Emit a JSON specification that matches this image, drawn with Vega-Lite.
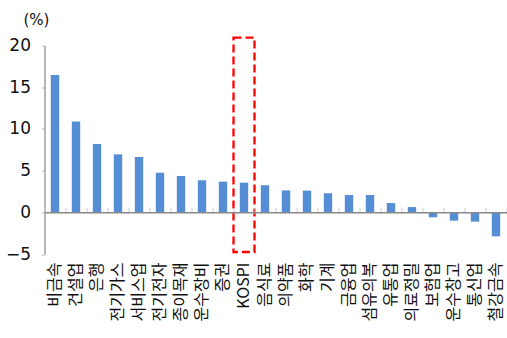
{
  "$schema": "https://vega.github.io/schema/vega-lite/v6.json",
  "width": 462,
  "height": 208.5,
  "autosize": {"type": "none"},
  "padding": {"left": 44.5, "top": 45.5, "right": 0.5, "bottom": 84},
  "background": "white",
  "config": {"view": {"stroke": null}, "font": "DejaVu Sans"},
  "data": {
    "values": [
      {"sector": "비금속", "value": 16.45},
      {"sector": "건설업", "value": 10.9},
      {"sector": "은행", "value": 8.2},
      {"sector": "전기가스", "value": 6.95},
      {"sector": "서비스업", "value": 6.63},
      {"sector": "전기전자", "value": 4.75},
      {"sector": "종이목재", "value": 4.35},
      {"sector": "운수장비", "value": 3.84},
      {"sector": "증권", "value": 3.67},
      {"sector": "KOSPI", "value": 3.55},
      {"sector": "음식료", "value": 3.24},
      {"sector": "의약품", "value": 2.63},
      {"sector": "화학", "value": 2.6},
      {"sector": "기계", "value": 2.28},
      {"sector": "금융업", "value": 2.07},
      {"sector": "섬유의복", "value": 2.07},
      {"sector": "유통업", "value": 1.11},
      {"sector": "의료정밀", "value": 0.63},
      {"sector": "보험업", "value": -0.6},
      {"sector": "운수창고", "value": -1.0},
      {"sector": "통신업", "value": -1.12},
      {"sector": "철강금속", "value": -2.88}
    ]
  },
  "layer": [
    {
      "mark": {"type": "bar", "width": {"band": 0.4}, "color": "#558ed5"},
      "encoding": {
        "x": {
          "field": "sector", "type": "nominal", "sort": null,
          "scale": {"paddingInner": 0, "paddingOuter": 0},
          "axis": {
            "title": null, "labelAngle": -90, "labelAlign": "right", "labelBaseline": "middle",
            "labelFont": "Noto Sans CJK KR", "labelFontSize": 16, "labelColor": "#111",
            "labelPadding": 8, "domain": false, "ticks": false
          }
        },
        "y": {
          "field": "value", "type": "quantitative",
          "scale": {"domain": [-5, 20], "nice": false},
          "axis": {
            "title": "(%)", "titleAngle": 0, "titleX": -8.5, "titleY": -26,
            "titleAlign": "center", "titleBaseline": "middle", "titleFontWeight": "normal",
            "titleFontSize": 15, "titleColor": "#111", "titleFont": "DejaVu Sans",
            "values": [-5, 0, 5, 10, 15, 20], "grid": false,
            "domainColor": "#888", "domainWidth": 1.2, "tickColor": "#bbb", "tickSize": 3,
            "labelFontSize": 17, "labelColor": "#111", "labelPadding": 11
          }
        }
      }
    },
    {
      "data": {"values": [{"sector": "KOSPI", "top": 20.95, "bottom": -4.76}]},
      "mark": {"type": "rect", "filled": false, "stroke": "#ff0000", "strokeWidth": 2.3, "strokeDash": [8, 4]},
      "encoding": {
        "x": {
          "field": "sector", "type": "nominal", "sort": null,
          "axis": {
            "orient": "top", "title": null, "labels": false, "offset": -166.8,
            "domainColor": "#888", "domainWidth": 1.5,
            "ticks": true, "tickBand": "extent", "tickSize": 5, "tickColor": "#ccc"
          }
        },
        "y": {"field": "top", "type": "quantitative"},
        "y2": {"field": "bottom"}
      }
    }
  ],
  "resolve": {"axis": {"x": "independent"}}
}
